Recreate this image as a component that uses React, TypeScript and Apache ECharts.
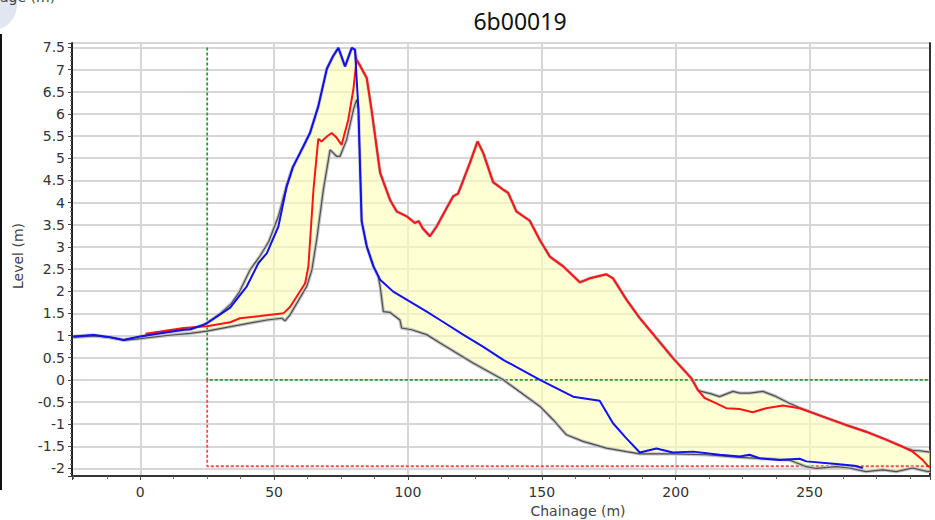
import React, { useEffect, useRef } from 'react';
import * as echarts from 'echarts';

const chartTitle = '6b00019';
const xAxisName = 'Chainage (m)';
const yAxisName = 'Level (m)';
const cutCaption = 'age (m)';

// [chainage (m), level (m)]
const blueLine: [number, number][] = [
  [-25, 0.98], [-17.4, 1.01], [-11.2, 0.96], [-6.2, 0.9], [0, 0.98], [7.5, 1.05], [16.2, 1.13],
  [18.7, 1.14], [23.6, 1.24], [24.9, 1.28], [28, 1.4], [33.6, 1.63], [39.8, 2.11], [44.1, 2.63],
  [47.3, 2.86], [51.6, 3.46], [54.7, 4.36], [57, 4.8], [59.7, 5.12], [63.4, 5.57], [66.5, 6.17],
  [69.7, 7.02], [72, 7.3], [74, 7.49], [76.5, 7.07], [79, 7.49], [80.2, 7.45], [81.5, 6.1],
  [82.1, 4.8], [82.7, 3.58], [84.6, 3.01], [87.1, 2.56], [89.6, 2.26], [94.5, 1.99], [99.5, 1.81],
  [107, 1.54], [112, 1.35], [120.6, 1.02], [128, 0.75], [135.6, 0.45], [149.3, 0], [161.7, -0.38],
  [171.6, -0.47], [176.6, -0.98], [181.6, -1.32], [186.6, -1.64], [192.8, -1.55], [199, -1.64],
  [206.5, -1.62], [216.4, -1.69], [223.9, -1.73], [227.6, -1.69], [231.3, -1.77], [238.8, -1.81],
  [246.3, -1.78], [248.8, -1.84], [260, -1.9], [266.8, -1.94], [269.9, -1.99],
];

const redLine: [number, number][] = [
  [1.9, 1.04], [7.5, 1.09], [16.2, 1.17], [24.9, 1.21], [33.6, 1.3], [37.3, 1.39], [44.8, 1.44],
  [53.5, 1.5], [56, 1.65], [61.6, 2.18], [62.8, 2.56], [64.7, 4.29], [66.5, 5.44], [67.7, 5.38],
  [69.7, 5.49], [71.5, 5.57], [73.4, 5.46], [75.2, 5.3], [77.7, 5.87], [79.6, 6.55], [80.8, 7.22],
  [82, 7.1], [84.6, 6.81], [86.4, 6.09], [89.6, 4.67], [93.3, 4.06], [95.8, 3.8], [99.5, 3.69],
  [102.6, 3.54], [104, 3.58], [105.5, 3.42], [108.2, 3.24], [110.7, 3.46], [114.4, 3.87],
  [116.9, 4.14], [118.7, 4.2], [120, 4.4], [123.1, 4.89], [126, 5.38], [128.1, 5.12], [131.8, 4.46],
  [135.6, 4.29], [137.4, 4.22], [140.5, 3.8], [142.4, 3.72], [145.5, 3.59], [149.3, 3.15],
  [153, 2.78], [158, 2.56], [164.2, 2.2], [167.9, 2.29], [174.1, 2.38], [176.6, 2.29], [181.6, 1.81],
  [186.6, 1.39], [192.8, 0.94], [199, 0.49], [205.8, 0.04], [208.3, -0.23], [210.8, -0.41],
  [215.2, -0.53], [218.9, -0.64], [223.9, -0.66], [228.8, -0.73], [233.8, -0.64], [240, -0.58],
  [246.3, -0.64], [255, -0.83], [263.7, -1.02], [271.1, -1.17], [278.6, -1.35], [284.8, -1.51],
  [288.5, -1.62], [292.3, -1.81], [294.2, -1.94], [295, -1.97],
];

// parts of the filled area's grey outline that follow neither coloured line
const topOutlineA: [number, number][] = [
  [30, 1.5], [34, 1.72], [37, 1.98], [41, 2.48], [44.8, 2.8], [48, 3.12], [51.6, 3.69], [54.7, 4.4],
];
const topOutlineB: [number, number][] = [
  [209.5, -0.26], [213, -0.31], [216.4, -0.38], [221.4, -0.26], [224, -0.3], [227.6, -0.3],
  [232.6, -0.26], [237.6, -0.38], [242.5, -0.53], [246.3, -0.63],
];
const topOutlineC: [number, number][] = [[288.5, -1.59], [291, -1.6], [295, -1.63]];

const bottomOutlineA: [number, number][] = [
  [-25, 0.96], [-17, 0.99], [-11, 0.95], [-6, 0.89], [0, 0.93], [10, 1.0], [18.7, 1.05],
  [24.9, 1.1], [37.3, 1.24], [47.3, 1.35], [52.9, 1.39], [54.1, 1.33], [56, 1.47], [62.2, 2.11],
  [64.1, 2.48], [65.9, 3.16], [68.4, 4.29], [70.9, 5.19], [73.4, 5.04], [74.6, 5.04], [77.1, 5.42],
  [79.6, 6.09], [80.8, 6.32],
];
const bottomOutlineB: [number, number][] = [
  [88.9, 2.33], [89.6, 2.11], [90.8, 1.54], [93.3, 1.52], [97, 1.35], [97.6, 1.17], [101.4, 1.13],
  [107, 1.02], [112, 0.83], [124.3, 0.38], [135.6, 0], [149.3, -0.6], [154.2, -0.9], [159.2, -1.24],
  [165.4, -1.39], [174.1, -1.54], [181.6, -1.62], [186.6, -1.67], [199, -1.67], [211.4, -1.69],
  [224, -1.75], [242.5, -1.81], [248.8, -1.96], [252.5, -2.0], [260, -1.96], [264.9, -1.99],
  [271.1, -2.07], [277.4, -2.03], [282.4, -2.07], [288.5, -1.99], [294.2, -2.07], [295, -2.06],
];

const greenGuide: [number, number][] = [[25, 7.5], [25, 0], [295, 0]];
const redGuide: [number, number][] = [[25, 0], [25, -1.95], [295, -1.95]];

const between = (pts: [number, number][], a: number, b: number) =>
  pts.filter((p) => p[0] >= a && p[0] <= b);

const topOutline: [number, number][] = [
  ...between(blueLine, -30, 25),
  ...topOutlineA,
  ...between(blueLine, 57, 80.2),
  ...between(redLine, 80.8, 208.3),
  ...topOutlineB,
  ...between(redLine, 250, 287),
  ...topOutlineC,
];
const bottomOutline: [number, number][] = [
  ...bottomOutlineA,
  ...between(blueLine, 81.5, 87.1),
  ...bottomOutlineB,
];

const AXIS_FONT = 'DejaVu Sans';

export default function App() {
  const ref = useRef<HTMLDivElement>(null);
  useEffect(() => {
    if (!ref.current) return;
    const chart = echarts.init(ref.current, null, { renderer: 'svg' });
    const polygonPts = [...topOutline, ...bottomOutline.slice().reverse()];
    const greyLine = (name: string, data: [number, number][], color: string, width: number) => ({
      name,
      type: 'line',
      data,
      showSymbol: false,
      silent: true,
      lineStyle: { color, width },
    });
    chart.setOption({
      animation: false,
      backgroundColor: '#ffffff',
      grid: { left: 72, right: 5, top: 43, bottom: 44, show: false },
      xAxis: {
        type: 'value',
        min: -25.5,
        max: 295,
        axisLine: { show: true, onZero: false, lineStyle: { color: '#333', width: 2 } },
        axisTick: { show: true, length: 4, lineStyle: { color: '#444' } },
        minorTick: { show: true, splitNumber: 4, length: 3, lineStyle: { color: '#666' } },
        axisLabel: {
          showMinLabel: false,
          showMaxLabel: false,
          margin: 9,
          color: '#333',
          fontSize: 14,
          fontFamily: AXIS_FONT,
        },
        splitLine: { show: true, lineStyle: { color: '#d6d6d6', width: 2 } },
      },
      yAxis: [
        {
          type: 'value',
          min: -2.17,
          max: 7.6,
          splitNumber: 20,
          axisLine: { show: true, onZero: false, lineStyle: { color: '#222', width: 2 } },
          axisTick: { show: true, length: 4, lineStyle: { color: '#444' } },
          minorTick: { show: true, splitNumber: 5, length: 2, lineStyle: { color: '#666' } },
          axisLabel: {
            showMinLabel: false,
            showMaxLabel: false,
            margin: 7,
            color: '#333',
            fontSize: 14,
            fontFamily: AXIS_FONT,
          },
          splitLine: { show: true, lineStyle: { color: '#d6d6d6', width: 2 } },
        },
        {
          type: 'value',
          position: 'right',
          min: -2.17,
          max: 7.6,
          axisLine: { show: true, onZero: false, lineStyle: { color: '#333', width: 2 } },
          axisTick: { show: false },
          axisLabel: { show: false },
          splitLine: { show: false },
        },
      ],
      graphic: [
        { type: 'circle', shape: { cx: -8, cy: 5, r: 25 }, style: { fill: '#e2e6f0' }, z: 1 },
        {
          type: 'text',
          x: 0,
          y: -10,
          style: { text: cutCaption, fill: '#444', fontSize: 14, fontFamily: AXIS_FONT, verticalAlign: 'top' },
          z: 2,
        },
        { type: 'rect', shape: { x: 0, y: 34, width: 2, height: 456 }, style: { fill: '#111' } },
        {
          type: 'text',
          x: 520,
          y: 21,
          style: {
            text: chartTitle,
            fill: '#111',
            fontSize: 23,
            fontFamily: 'Noto Sans',
            align: 'center',
            verticalAlign: 'middle',
          },
        },
        {
          type: 'text',
          x: 18,
          y: 256,
          rotation: Math.PI / 2,
          style: {
            text: yAxisName,
            fill: '#444',
            fontSize: 14,
            fontFamily: AXIS_FONT,
            align: 'center',
            verticalAlign: 'middle',
          },
        },
        {
          type: 'text',
          x: 578,
          y: 511,
          style: {
            text: xAxisName,
            fill: '#444',
            fontSize: 14,
            fontFamily: AXIS_FONT,
            align: 'center',
            verticalAlign: 'middle',
          },
        },
      ],
      series: [
        {
          name: 'fill',
          type: 'custom',
          silent: true,
          data: [[0, 0]],
          renderItem: (params: any, api: any) => {
            if (params.dataIndex !== 0) return null;
            const points = polygonPts.map((p) => api.coord(p));
            return {
              type: 'polygon',
              shape: { points },
              style: { fill: 'rgba(255,255,185,0.62)', stroke: 'none' },
            };
          },
        },
        {
          name: 'green guide',
          type: 'line',
          data: greenGuide,
          showSymbol: false,
          silent: true,
          lineStyle: { color: '#2f9a2f', width: 1.8, type: [3, 2] },
        },
        {
          name: 'red guide',
          type: 'line',
          data: redGuide,
          showSymbol: false,
          silent: true,
          lineStyle: { color: '#ff4a4a', width: 1.8, type: [3, 2] },
        },
        greyLine('top halo', topOutline, '#c4c4c4', 3.4),
        greyLine('bottom halo', bottomOutline, '#c4c4c4', 3.4),
        greyLine('top', topOutline, '#4e4e4e', 1.2),
        greyLine('bottom', bottomOutline, '#4e4e4e', 1.2),
        {
          name: 'red',
          type: 'line',
          data: redLine,
          showSymbol: false,
          silent: true,
          lineStyle: { color: '#ff1414', width: 2 },
        },
        {
          name: 'blue',
          type: 'line',
          data: blueLine,
          showSymbol: false,
          silent: true,
          lineStyle: { color: '#1010f0', width: 2 },
        },
      ],
    });
    return () => chart.dispose();
  }, []);
  return (
    <div
      ref={ref}
      style={{ position: 'absolute', left: 0, top: 0, width: 935, height: 520 }}
    />
  );
}
